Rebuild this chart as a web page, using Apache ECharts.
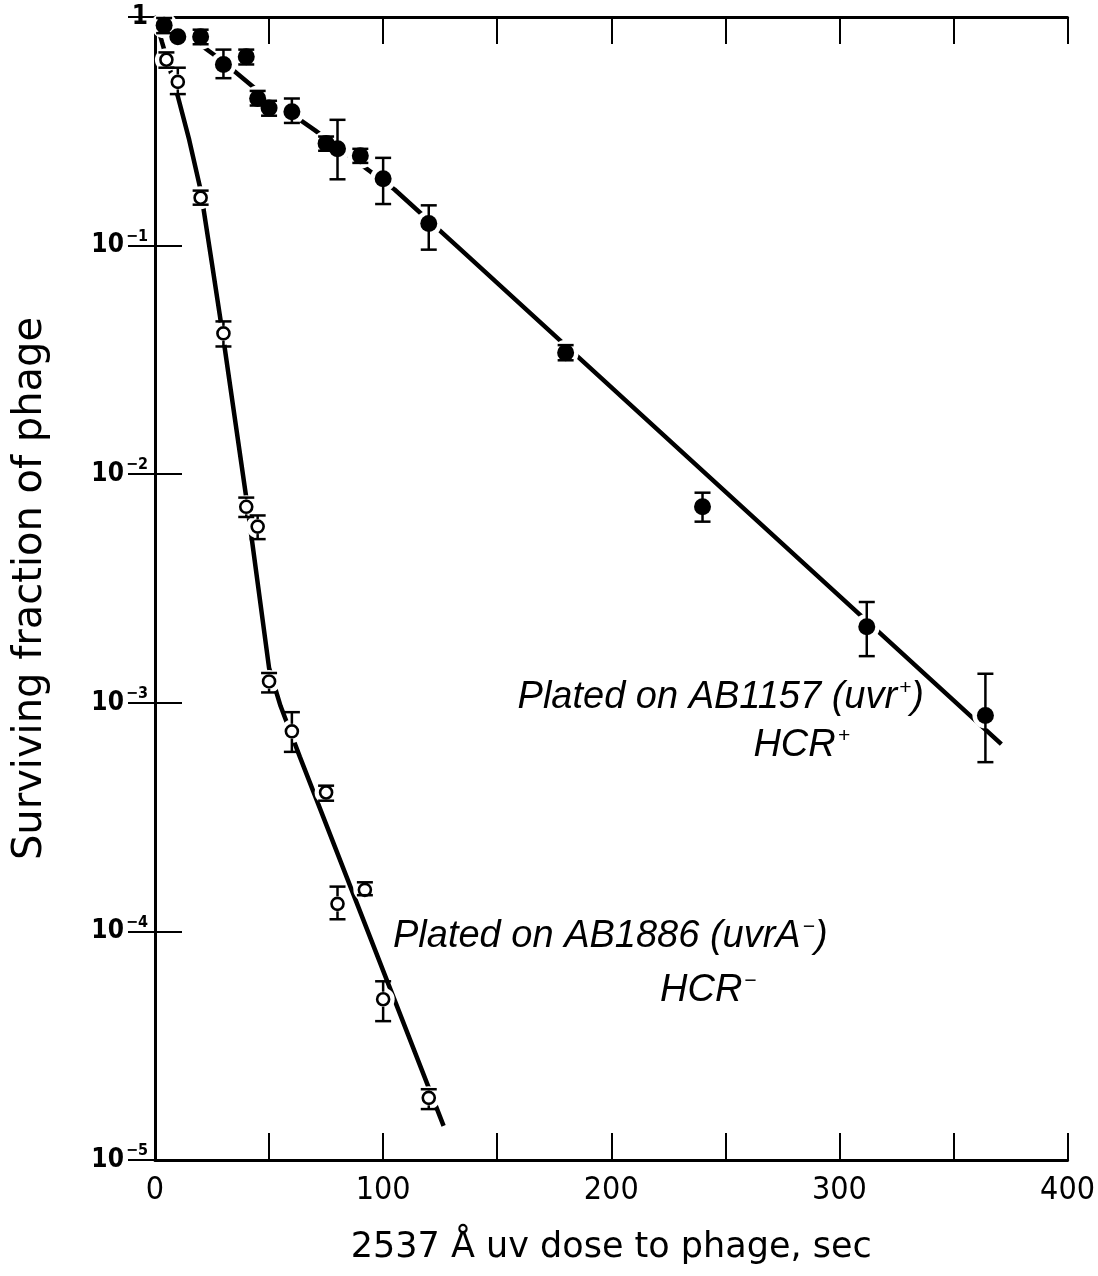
<!DOCTYPE html>
<html>
<head>
<meta charset="utf-8">
<title>Surviving fraction of phage</title>
<script src="https://cdn.jsdelivr.net/npm/echarts@6/dist/echarts.min.js"></script>
<style>
html, body { margin: 0; padding: 0; background: #fff; }
#main { width: 1098px; height: 1276px; }
</style>
</head>
<body>
<div id="main"></div>
<script>
// plated on AB1157 (uvr+), HCR+  -- filled points
var plusDose = [4, 10, 20, 30, 40, 45, 50, 60, 75, 80, 90, 100, 120, 180, 240, 312, 364];
var plusVal  = [0.92, 0.82, 0.82, 0.62, 0.67, 0.44, 0.40, 0.385, 0.28, 0.265, 0.247, 0.196, 0.125, 0.034, 0.0072, 0.00215, 0.00088];
var plusLow  = [0.85, null, 0.76, 0.54, 0.62, 0.41, 0.37, 0.344, 0.26, 0.195, 0.23, 0.152, 0.096, 0.0315, 0.0062, 0.0016, 0.00055];
var plusHigh = [0.99, null, 0.88, 0.72, 0.72, 0.475, 0.43, 0.44, 0.30, 0.355, 0.265, 0.242, 0.150, 0.0367, 0.0083, 0.00276, 0.00134];

// plated on AB1886 (uvrA-), HCR-  -- open points
var minusDose = [5, 10, 20, 30, 40, 45, 50, 60, 75, 80, 92, 100, 120];
var minusVal  = [0.65, 0.52, 0.162, 0.0413, 0.0072, 0.0059, 0.00124, 0.00075, 0.000405, 0.000132, 0.000152, 0.0000505, 0.0000187];
var minusLow  = [0.60, 0.46, 0.151, 0.0362, 0.0065, 0.0052, 0.00111, 0.00061, 0.000373, 0.000113, 0.000144, 0.0000405, 0.0000167];
var minusHigh = [0.70, 0.60, 0.174, 0.0466, 0.0079, 0.0066, 0.00135, 0.00091, 0.000434, 0.000157, 0.000164, 0.0000605, 0.0000204];

// drawn survival curves
var plusFitDose = [0, 15, 28, 43.5, 70, 105, 132.6, 371];
var plusFitVal  = [1.0, 0.82, 0.66, 0.49, 0.32, 0.176, 0.099, 0.00066];
var minusFitDose = [0, 3, 10, 15, 20, 25, 30, 40, 50, 55, 63.5, 126.5];
var minusFitVal  = [1.0, 0.78, 0.45, 0.29, 0.175, 0.083, 0.039, 0.0079, 0.00142, 0.00097, 0.00058, 0.0000141];

// tick labels
var xTicks = [0, 100, 200, 300, 400];
var yExp = [0, -1, -2, -3, -4, -5];

var tickFont = '"DejaVu Sans Condensed", "DejaVu Sans", sans-serif';
var titleFont = '"DejaVu Sans", sans-serif';
var noteFont = '"Liberation Sans", Arial, sans-serif';

function pairs(xs, ys) {
	var out = [];
	for (var i = 0; i < xs.length; i++) {
		out.push([xs[i], ys[i]]);
	}
	return out;
}

function errRows(xs, ys, lo, hi) {
	var out = [];
	for (var i = 0; i < xs.length; i++) {
		if (lo[i] == null) continue;
		out.push([xs[i], lo[i], hi[i], ys[i]]);
	}
	return out;
}

function yLabel(v) {
	var e = Math.round(Math.log(v) / Math.LN10);
	if (yExp.indexOf(e) < 0) return '';
	if (e == 0) return '1';
	return '10{sup|\u2212' + (-e) + '}';
}

// error bar: stops at the marker edge (r px), caps 16 px wide
function errBar(r) {
	return function (params, api) {
		var pc = api.coord([api.value(0), api.value(3)]);
		var pl = api.coord([api.value(0), api.value(1)]);
		var ph = api.coord([api.value(0), api.value(2)]);
		var st = { stroke: '#000', lineWidth: 2.5 };
		var kids = [];
		if (ph[1] < pc[1] - r) {
			kids.push({ type: 'line', shape: { x1: pc[0], y1: ph[1], x2: pc[0], y2: pc[1] - r }, style: st });
		}
		if (pl[1] > pc[1] + r) {
			kids.push({ type: 'line', shape: { x1: pc[0], y1: pc[1] + r, x2: pc[0], y2: pl[1] }, style: st });
		}
		kids.push({ type: 'line', shape: { x1: pc[0] - 8, y1: ph[1], x2: pc[0] + 8, y2: ph[1] }, style: st });
		kids.push({ type: 'line', shape: { x1: pc[0] - 8, y1: pl[1], x2: pc[0] + 8, y2: pl[1] }, style: st });
		return { type: 'group', children: kids };
	};
}

var supNote = { fontSize: 21, fontStyle: 'italic', fontFamily: noteFont, color: '#000', padding: [0, 0, 18, 2] };
var noteStyle = function (txt, align) {
	return {
		text: txt, align: align, verticalAlign: 'middle',
		fontSize: 38, fontStyle: 'italic', fontFamily: noteFont, fill: '#000',
		rich: { sup: supNote }
	};
};

var frameLine = { lineStyle: { color: '#000', width: 3 } };
var frameTick = { inside: true, length: 27, lineStyle: { color: '#000', width: 2 } };

var myChart = echarts.init(document.getElementById('main'));
var option = {
	backgroundColor: '#fff',
	animation: false,
	grid: { left: 155, right: 21, top: 17, bottom: 116, containLabel: false },
	xAxis: [
		{
			type: 'value', min: 0, max: 400, interval: 50, position: 'bottom',
			axisLine: frameLine, axisTick: frameTick, splitLine: { show: false },
			axisLabel: {
				margin: 15, fontSize: 32, color: '#000', fontFamily: tickFont,
				formatter: function (v) { return xTicks.indexOf(v) >= 0 ? String(v) : ''; }
			},
			name: '2537 \u00c5 uv dose to phage, sec', nameLocation: 'middle', nameGap: 70,
			nameTextStyle: { fontSize: 35, color: '#000', fontFamily: titleFont }
		},
		{
			type: 'value', min: 0, max: 400, interval: 50, position: 'top',
			axisLine: frameLine, axisTick: frameTick, splitLine: { show: false },
			axisLabel: { show: false }
		}
	],
	yAxis: [
		{
			type: 'log', logBase: 10, min: 0.00001, max: 1, position: 'left',
			axisLine: frameLine, axisTick: frameTick, splitLine: { show: false },
			axisLabel: {
				margin: 7, fontSize: 26, fontWeight: 'bold', color: '#000', fontFamily: tickFont, formatter: yLabel,
				rich: { sup: { fontSize: 16, fontWeight: 'bold', color: '#000', fontFamily: tickFont, padding: [0, 0, 18, 2] } }
			},
			name: 'Surviving fraction of phage', nameLocation: 'middle', nameGap: 104,
			nameTextStyle: { fontSize: 40, color: '#000', fontFamily: titleFont }
		},
		{
			type: 'log', logBase: 10, min: 0.00001, max: 1, position: 'right',
			axisLine: frameLine, axisTick: frameTick, splitLine: { show: false },
			axisLabel: { show: false }
		}
	],
	series: [
		{
			type: 'line', data: pairs(plusFitDose, plusFitVal), symbol: 'none', z: 1,
			lineStyle: { color: '#000', width: 4.5 }, silent: true
		},
		{
			type: 'line', data: pairs(minusFitDose, minusFitVal), symbol: 'none', z: 1,
			lineStyle: { color: '#000', width: 4.5 }, silent: true
		},
		// white halos make the gaps where the curves meet the points
		{
			type: 'scatter', data: pairs(plusDose, plusVal), symbolSize: 26, z: 2, silent: true,
			itemStyle: { color: '#fff', opacity: 1 }
		},
		{
			type: 'scatter', data: pairs(minusDose, minusVal), symbolSize: 23, z: 2, silent: true,
			itemStyle: { color: '#fff', opacity: 1 }
		},
		{
			name: 'HCR+', type: 'scatter', data: pairs(plusDose, plusVal), symbol: 'circle', symbolSize: 17, z: 3,
			itemStyle: { color: '#000', opacity: 1 }
		},
		{
			name: 'HCR-', type: 'scatter', data: pairs(minusDose, minusVal), symbol: 'circle', symbolSize: 12, z: 3,
			itemStyle: { color: '#fff', borderColor: '#000', borderWidth: 2.6, opacity: 1 }
		},
		{
			type: 'custom', renderItem: errBar(7.5), data: errRows(plusDose, plusVal, plusLow, plusHigh), z: 4,
			encode: { x: 0, y: [1, 2, 3] }, silent: true
		},
		{
			type: 'custom', renderItem: errBar(7.5), data: errRows(minusDose, minusVal, minusLow, minusHigh), z: 4,
			encode: { x: 0, y: [1, 2, 3] }, silent: true
		}
	],
	graphic: [
		{ type: 'text', x: 924, y: 697, style: noteStyle('Plated on AB1157 (uvr{sup|+})', 'right') },
		{ type: 'text', x: 850, y: 745, style: noteStyle('HCR{sup|+}', 'right') },
		{ type: 'text', x: 393, y: 936, style: noteStyle('Plated on AB1886 (uvrA{sup|\u2212})', 'left') },
		{ type: 'text', x: 660, y: 990, style: noteStyle('HCR{sup|\u2212}', 'left') }
	]
};
myChart.setOption(option);
</script>
</body>
</html>
